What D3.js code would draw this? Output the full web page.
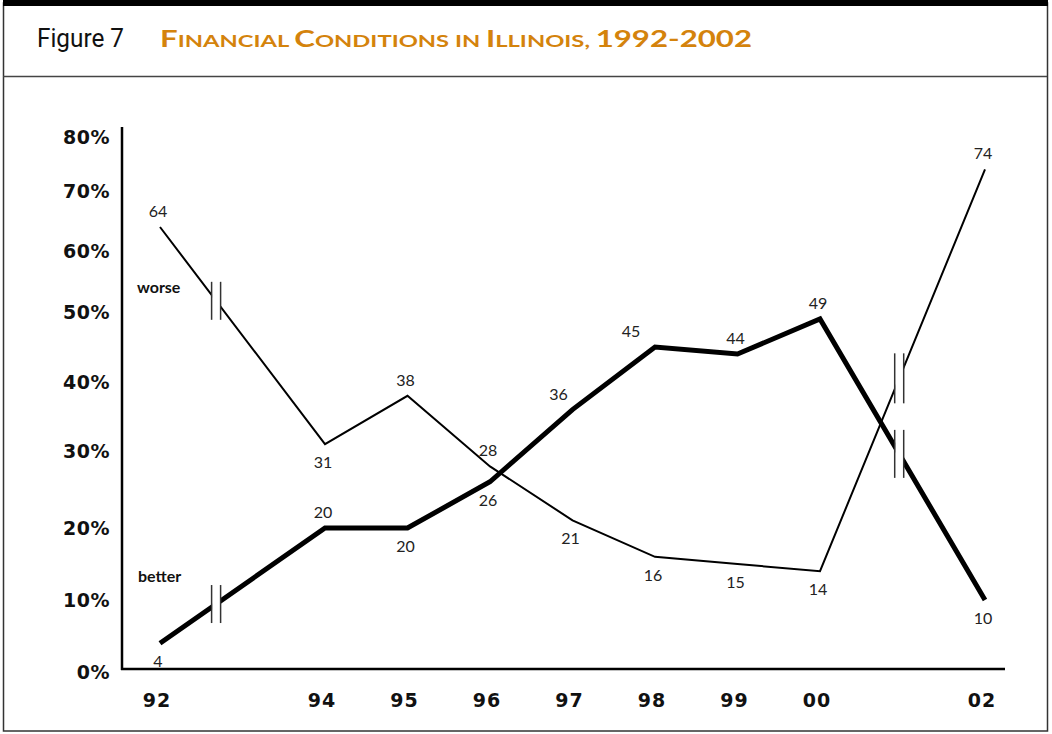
<!DOCTYPE html>
<html>
<head>
<meta charset="utf-8">
<script src="https://cdn.jsdelivr.net/npm/d3@7"></script>
<style>
  body { margin: 0; background: #fff; }
  svg { display: block; }
</style>
</head>
<body>
<div id="chart"></div>
<script>
// values
var years = [1992, 1994, 1995, 1996, 1997, 1998, 1999, 2000, 2002];
var yearLabels = ['92', '94', '95', '96', '97', '98', '99', '00', '02'];
var better = [4, 20, 20, 26, 36, 45, 44, 49, 10];
var worse = [64, 31, 38, 28, 21, 16, 15, 14, 74];
var yTicks = [0, 10, 20, 30, 40, 50, 60, 70, 80];

var width = 1052;
var height = 734;

var svg = d3.select('#chart')
    .append('svg')
    .attr('width', width)
    .attr('height', height);

// frame
svg.append('rect')
    .attr('x', 3.5).attr('y', 3)
    .attr('width', 1044).attr('height', 728)
    .attr('fill', 'none')
    .attr('stroke', '#333')
    .attr('stroke-width', 1.5);
svg.append('rect')
    .attr('x', 3).attr('y', 0)
    .attr('width', 1045).attr('height', 6)
    .attr('fill', '#000');
svg.append('line')
    .attr('x1', 3).attr('x2', 1047)
    .attr('y1', 76.5).attr('y2', 76.5)
    .attr('stroke', '#444')
    .attr('stroke-width', 1.5);

// title
svg.append('text')
    .attr('x', 37).attr('y', 47)
    .attr('font-family', '"Liberation Sans Narrow", "Roboto", sans-serif')
    .attr('font-size', 25)
    .attr('fill', '#111')
    .attr('textLength', 87)
    .attr('lengthAdjust', 'spacingAndGlyphs')
    .text('Figure 7');

var titleParts = [
    ['F', 23], ['INANCIAL ', 17.5], ['C', 23], ['ONDITIONS ', 17.5], ['IN ', 17.5],
    ['I', 23], ['LLINOIS, ', 17.5], ['1992-2002', 23]
];
var title = svg.append('text')
    .attr('x', 160).attr('y', 47)
    .attr('font-family', 'Lato, "DejaVu Sans", sans-serif')
    .attr('font-weight', 'bold')
    .attr('fill', '#d4830c')
    .attr('textLength', 592)
    .attr('lengthAdjust', 'spacingAndGlyphs');
title.selectAll('tspan')
    .data(titleParts)
    .enter()
    .append('tspan')
    .attr('font-size', function (d) { return d[1]; })
    .text(function (d) { return d[0]; });

// scales (the original is drawn by hand, so the y spacing is not even)
var x = d3.scaleLinear()
    .domain([1992, 2002])
    .range([160, 985]);
var y = d3.scaleLinear()
    .domain(yTicks)
    .range([672, 600, 528, 451, 382, 312, 251, 191, 137]);

// axes
svg.append('line')
    .attr('x1', 122).attr('x2', 122)
    .attr('y1', 127).attr('y2', 670)
    .attr('stroke', '#000').attr('stroke-width', 2.5);
svg.append('line')
    .attr('x1', 121).attr('x2', 1005)
    .attr('y1', 669).attr('y2', 669)
    .attr('stroke', '#000').attr('stroke-width', 2.5);

svg.append('g')
    .selectAll('text')
    .data(yTicks)
    .enter()
    .append('text')
    .attr('x', 110)
    .attr('y', function (d) { return y(d); })
    .attr('dy', '0.36em')
    .attr('text-anchor', 'end')
    .attr('font-family', '"DejaVu Sans", sans-serif')
    .attr('font-weight', 'bold')
    .attr('font-size', 19)
    .attr('letter-spacing', 0.5)
    .attr('fill', '#111')
    .text(function (d) { return d + '%'; });

svg.append('g')
    .selectAll('text')
    .data(years)
    .enter()
    .append('text')
    .attr('x', function (d) { return x(d) - 3; })
    .attr('y', 700)
    .attr('dy', '0.36em')
    .attr('text-anchor', 'middle')
    .attr('font-family', '"DejaVu Sans", sans-serif')
    .attr('font-weight', 'bold')
    .attr('font-size', 19)
    .attr('letter-spacing', 1)
    .attr('fill', '#111')
    .text(function (d, i) { return yearLabels[i]; });

// lines
var line = d3.line()
    .x(function (d) { return x(d.year); })
    .y(function (d) { return y(d.value); });

function series(values) {
    return years.map(function (yr, i) { return { year: yr, value: values[i] }; });
}

var worseData = series(worse);
var betterData = series(better);

svg.append('path')
    .datum(worseData)
    .attr('d', line)
    .attr('fill', 'none')
    .attr('stroke', '#000')
    .attr('stroke-width', 2);

svg.append('path')
    .datum(betterData)
    .attr('d', line)
    .attr('fill', 'none')
    .attr('stroke', '#000')
    .attr('stroke-width', 5);

// scale breaks (1993 and 2001 missing)
function drawBreak(data, i0, t, h) {
    var a = data[i0], b = data[i0 + 1];
    var bx = x(a.year) + t * (x(b.year) - x(a.year));
    var by = y(a.value) + t * (y(b.value) - y(a.value));
    var g = svg.append('g');
    g.append('rect')
        .attr('x', bx - 4).attr('y', by - h / 2 + 4)
        .attr('width', 8).attr('height', h - 8)
        .attr('fill', '#fff');
    [-4.5, 4.5].forEach(function (dx) {
        g.append('line')
            .attr('x1', bx + dx).attr('x2', bx + dx)
            .attr('y1', by - h / 2).attr('y2', by + h / 2)
            .attr('stroke', '#333')
            .attr('stroke-width', 1.5);
    });
}
drawBreak(worseData, 0, 0.34, 38);
drawBreak(betterData, 0, 0.34, 38);
drawBreak(worseData, 7, 0.48, 50);
drawBreak(betterData, 7, 0.48, 48);

// value labels
var worseBelow = [1994, 1997, 1998, 1999, 2000];
var betterBelow = [1992, 1995, 1996, 2002];
var labelShift = { 1997: -12, 1998: -22 };

function addLabels(data, below, isBetter) {
    svg.append('g')
        .selectAll('text')
        .data(data)
        .enter()
        .append('text')
        .attr('x', function (d) {
            var dx = isBetter && labelShift[d.year] ? labelShift[d.year] : 0;
            return x(d.year) + dx - 2;
        })
        .attr('y', function (d) {
            return below.indexOf(d.year) >= 0 ? y(d.value) + 24 : y(d.value) - 10;
        })
        .attr('text-anchor', 'middle')
        .attr('font-family', 'Lato, "Open Sans", sans-serif')
        .attr('font-size', 16)
        .attr('fill', '#222')
        .text(function (d) { return d.value; });
}
addLabels(worseData, worseBelow, false);
addLabels(betterData, betterBelow, true);

// series names
svg.append('text')
    .attr('x', 137).attr('y', 293)
    .attr('font-family', 'Lato, sans-serif')
    .attr('font-weight', 'bold')
    .attr('font-size', 16)
    .attr('fill', '#111')
    .text('worse');
svg.append('text')
    .attr('x', 138).attr('y', 582)
    .attr('font-family', 'Lato, sans-serif')
    .attr('font-weight', 'bold')
    .attr('font-size', 16)
    .attr('fill', '#111')
    .text('better');
</script>
</body>
</html>
